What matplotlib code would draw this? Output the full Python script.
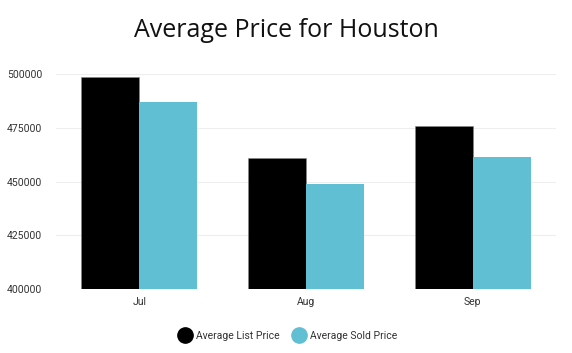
import numpy as np
import matplotlib.pyplot as plt
from matplotlib.lines import Line2D

months = ["Jul", "Aug", "Sep"]
list_price = [498600, 461200, 475900]
sold_price = [487000, 448900, 461500]
yticks = [400000, 425000, 450000, 475000, 500000]

BLACK = "#000000"
BLUE = "#61bfd3"

fig = plt.figure(figsize=(5.72, 3.53), dpi=100)
ax = fig.add_axes([0.098, 0.181, 0.874, 0.609])

x = np.arange(len(months))
w = 0.348
ax.bar(x - w / 2, list_price, w, color=BLACK, edgecolor="#888888", linewidth=0.4, zorder=3)
ax.bar(x + w / 2, sold_price, w, color=BLUE, zorder=3)

ax.set_xlim(-0.5, len(months) - 0.5)
ax.set_ylim(400000, 500000)
ax.set_yticks(yticks)
ax.set_yticklabels([str(v) for v in yticks], family="Roboto", fontsize=7.5, color="#333333")
ax.set_xticks(x)
ax.set_xticklabels(months, family="Roboto", fontsize=7.5, color="#333333")
ax.tick_params(length=0, pad=6)
ax.tick_params(axis="y", pad=10)
ax.grid(axis="y", color="#eeeeee", linewidth=0.8, zorder=0)
for s in ax.spines.values():
    s.set_visible(False)

fig.text(0.500, 0.915, "Average Price for Houston", ha="center", va="center",
         family="Open Sans", fontsize=18, color="#111111")

handles = [
    Line2D([], [], marker="o", linestyle="", markersize=11, color=BLACK),
    Line2D([], [], marker="o", linestyle="", markersize=11, color=BLUE),
]
fig.legend(handles, ["Average List Price", "Average Sold Price"], loc="center",
           bbox_to_anchor=(0.5, 0.048), ncol=2, frameon=False,
           prop={"family": "Roboto", "size": 7.5}, handletextpad=0.1,
           columnspacing=0.8, labelcolor="#333333")

fig.savefig("out.png", dpi=100)
